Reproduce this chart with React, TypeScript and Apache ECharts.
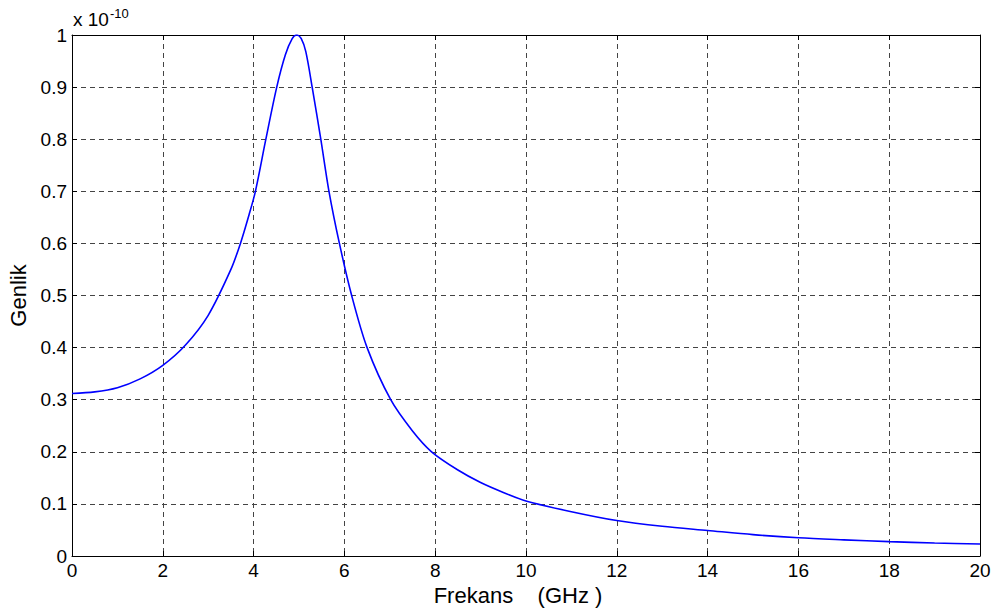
import React, { useEffect, useRef } from "react";
import * as echarts from "echarts";

// Frequency (GHz) sample points
const freq = [0, 0.5, 1, 1.5, 2, 2.5, 3, 3.5, 3.71, 3.9, 4.04, 4.27, 4.51, 4.7, 4.85, 4.95, 5.05, 5.15, 5.29, 5.48, 5.66, 5.89, 6.16, 6.5, 7.02, 7.5, 7.92, 8.5, 9, 9.5, 10, 11, 12, 13, 14, 15, 16, 17, 18, 19, 20];
// Amplitude (x 1e-10)
const amplitude = [0.312, 0.315, 0.323, 0.34, 0.366, 0.405, 0.462, 0.55, 0.6, 0.655, 0.7, 0.8, 0.9, 0.962, 0.993, 1.0, 0.993, 0.968, 0.9, 0.8, 0.7, 0.6, 0.5, 0.4, 0.3, 0.24, 0.2, 0.165, 0.141, 0.122, 0.1056, 0.085, 0.068, 0.057, 0.049, 0.041, 0.035, 0.031, 0.0275, 0.025, 0.023];

const xTicks = [0, 2, 4, 6, 8, 10, 12, 14, 16, 18, 20];
const yTicks = [0, 0.1, 0.2, 0.3, 0.4, 0.5, 0.6, 0.7, 0.8, 0.9, 1];

const xTitle = "Frekans    (GHz )";
const yTitle = "Genlik";
const scaleText = "x 10";
const scaleExp = "-10";

export default function App() {
  const ref = useRef<HTMLDivElement>(null);
  useEffect(() => {
    document.body.style.margin = "0";
    const chart = echarts.init(ref.current!, null, { renderer: "svg" });
    const font = "Arial, 'Liberation Sans', sans-serif";
    const gridLine = { show: true, lineStyle: { color: "#444", type: [5, 4] as any, width: 1 } };
    const baseX = {
      type: "value" as const,
      min: xTicks[0],
      max: xTicks[xTicks.length - 1],
      interval: 2,
      axisLine: { show: true, onZero: false, lineStyle: { color: "#000", width: 1 } },
      axisTick: { show: true, inside: true, length: 5, lineStyle: { color: "#000" } },
    };
    const baseY = {
      type: "value" as const,
      min: yTicks[0],
      max: yTicks[yTicks.length - 1],
      interval: 0.1,
      axisLine: { show: true, onZero: false, lineStyle: { color: "#000", width: 1 } },
      axisTick: { show: true, inside: true, length: 5, lineStyle: { color: "#000" } },
    };
    chart.setOption({
      animation: false,
      backgroundColor: "#fff",
      grid: { left: 72, right: 18, top: 35, bottom: 57, outerBoundsMode: "none", containLabel: false },
      xAxis: [
        {
          ...baseX,
          position: "bottom",
          name: xTitle,
          nameLocation: "middle",
          nameGap: 22,
          nameTextStyle: { color: "#000", fontSize: 22, fontFamily: font, padding: [0, 16, 0, 0] },
          splitLine: gridLine,
          axisLabel: {
            color: "#000",
            fontSize: 19,
            fontFamily: font,
            margin: 5,
            formatter: (v: number) => String(v),
          },
        },
        {
          ...baseX,
          position: "top",
          splitLine: { show: false },
          axisLabel: { show: false },
        },
      ],
      yAxis: [
        {
          ...baseY,
          position: "left",
          name: yTitle,
          nameLocation: "middle",
          nameGap: 38,
          nameRotate: 90,
          nameTextStyle: { color: "#000", fontSize: 22, fontFamily: font },
          splitLine: gridLine,
          axisLabel: {
            color: "#000",
            fontSize: 19,
            fontFamily: font,
            margin: 5,
            formatter: (v: number) => String(Math.round(v * 10) / 10),
          },
        },
        {
          ...baseY,
          position: "right",
          splitLine: { show: false },
          axisLabel: { show: false },
        },
      ],
      graphic: [
        {
          type: "text",
          left: 73,
          top: 7,
          style: {
            text: scaleText + "{sup|" + scaleExp + "}",
            fill: "#000",
            font: "19px " + font,
            rich: { sup: { fontSize: 13, fontFamily: font, fill: "#000", verticalAlign: "top", padding: [0, 0, 12, 1] } },
          },
        },
      ],
      series: [
        {
          type: "line",
          data: freq.map((f, i) => [f, amplitude[i]]),
          smooth: 0.3,
          showSymbol: false,
          symbol: "none",
          lineStyle: { color: "#0000ff", width: 1.6 },
          xAxisIndex: 0,
          yAxisIndex: 0,
        },
      ],
    });
    return () => chart.dispose();
  }, []);
  return <div ref={ref} style={{ width: 998, height: 613 }} />;
}
